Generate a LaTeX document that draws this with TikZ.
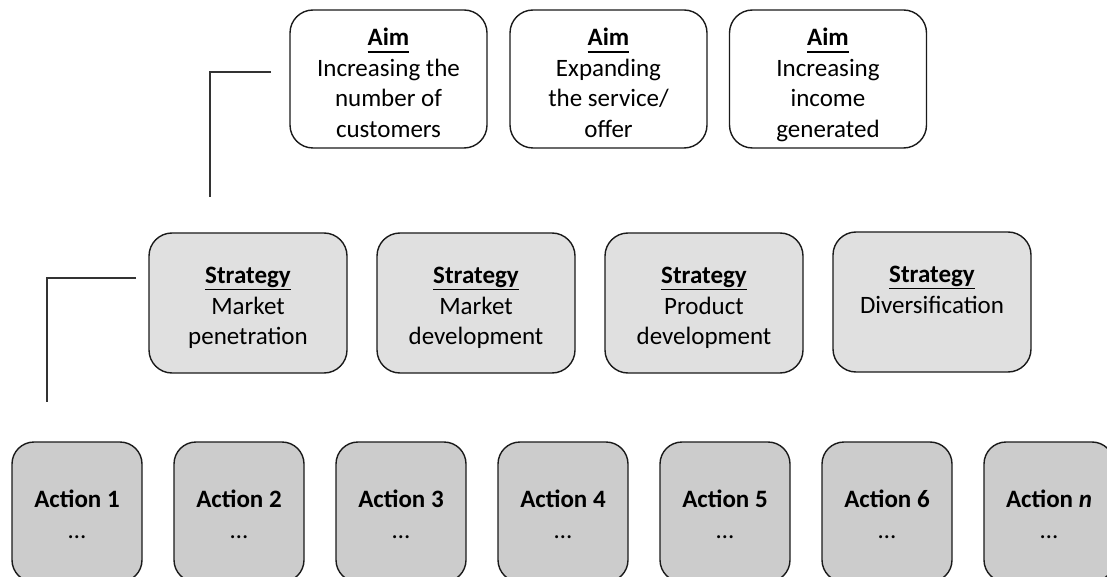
\documentclass[tikz,border=0pt]{standalone}
\usepackage{fontspec}
\setmainfont{Carlito}
\newcommand{\myul}[1]{{\setbox0\hbox{#1}\rlap{\vrule width\wd0 height -5.0pt depth 6.8pt}\box0}}
\definecolor{stratfill}{HTML}{E0E0E0}
\definecolor{actfill}{HTML}{CCCCCC}
\definecolor{edge}{HTML}{1A1A1A}
\definecolor{linkc}{HTML}{333333}
\tikzset{
  x=1pt, y=-1pt,
  aimbox/.style={draw=edge, line width=1.4pt, rounded corners=23pt, fill=white,
    minimum width=197pt, minimum height=138pt, inner sep=0pt},
  stratbox/.style={draw=edge, line width=1.4pt, rounded corners=23pt, fill=stratfill,
    minimum width=198pt, minimum height=140pt, inner sep=0pt},
  actbox/.style={draw=edge, line width=1.4pt, rounded corners=22pt, fill=actfill,
    minimum width=130pt, minimum height=140pt, inner sep=0pt},
  boxtext/.style={anchor=north, align=center, inner sep=0pt, text=black,
    font=\fontsize{25}{30.5}\selectfont},
  link/.style={draw=linkc, line width=1.3pt}
}
\begin{document}
\begin{tikzpicture}
\useasboundingbox (0,0) rectangle (1107,577);
% Aims
\node[aimbox] (aim1) at (388.5,79) {};
\node[aimbox] (aim2) at (608.5,79) {};
\node[aimbox] (aim3) at (828,79) {};
\node[boxtext] (aim1t) at (388.5,28) {\myul{\textbf{Aim}}\\Increasing the\\number of\\customers};
\node[boxtext] (aim2t) at (608.5,28) {\myul{\textbf{Aim}}\\Expanding\\the service/\\offer};
\node[boxtext] (aim3t) at (828,28) {\myul{\textbf{Aim}}\\Increasing\\income\\generated};
% Strategies
\node[stratbox] (s1) at (248,303) {};
\node[stratbox] (s2) at (476,303) {};
\node[stratbox] (s3) at (704,303) {};
\node[stratbox] (s4) at (932,302) {};
\node[boxtext] (s1t) at (248,267) {\myul{\textbf{Strategy}}\\Market\\penetration};
\node[boxtext] (s2t) at (476,267) {\myul{\textbf{Strategy}}\\Market\\development};
\node[boxtext] (s3t) at (704,267) {\myul{\textbf{Strategy}}\\Product\\development};
\node[boxtext] (s4t) at (932,266) {\myul{\textbf{Strategy}}\\Diversification};
% Actions
\foreach \i/\xl/\lab in {1/12/1, 2/174/2, 3/336/3, 4/498/4, 5/660/5, 6/822/6, 7/984/\textit{n}} {
  \node[actbox] (a\i) at (\xl+65,512) {};
  \node[boxtext] (a\i t) at (\xl+65,490) {\textbf{Action \lab}\\…};
}
% Connectors
\coordinate (c1a) at (271,72);
\coordinate (c1b) at (210,197);
\draw[link] (c1a) -| (c1b);
\coordinate (c2a) at (136,278);
\coordinate (c2b) at (47,402);
\draw[link] (c2a) -| (c2b);
\end{tikzpicture}
\end{document}
